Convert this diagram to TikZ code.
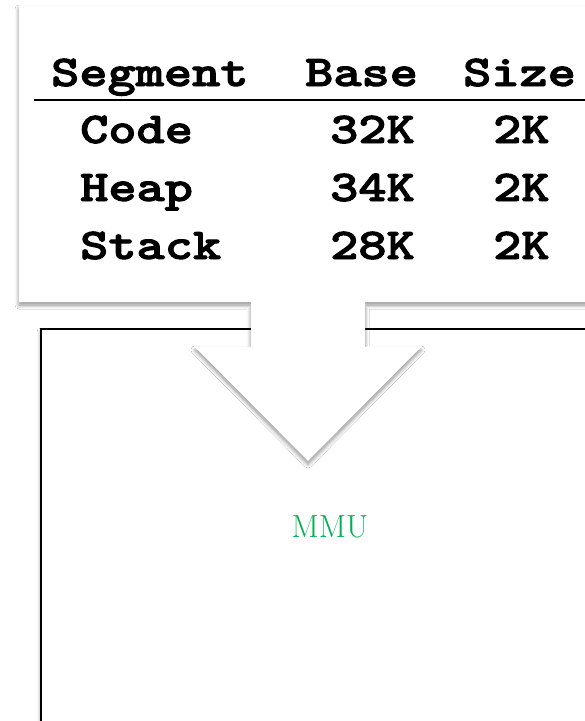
\documentclass[tikz,border=0pt]{standalone}
\usetikzlibrary{shadows.blur}
\definecolor{mmugreen}{RGB}{0,176,80}
\newcommand\wideT[1]{\special{pdf:literal 2 Tr 0.9 w}\scalebox{1.22}[1]{#1}\special{pdf:literal 0 Tr}}
\begin{document}
\begin{tikzpicture}[x=1pt,y=-1pt,
  cell/.style={anchor=base west, inner sep=0pt, font=\ttfamily\bfseries\fontsize{44}{44}\selectfont},
  softshadow/.style={blur shadow={shadow blur steps=8, shadow xshift=0pt, shadow yshift=-3pt, shadow opacity=45, shadow blur radius=4pt}}]
\useasboundingbox (0,0) rectangle (585,721);
\clip (0,0) rectangle (585,721);
\fill[white] (0,0) rectangle (585,721);
% MMU box
\draw[line width=2pt, fill=white, softshadow] (41,329) rectangle (660,800);
\node[text=mmugreen, font=\fontsize{32}{32}\selectfont] (mmu) at (330,527) {MMU};
% callout
\path[fill=white, softshadow] (19,6) -- (640,6) -- (640,302) -- (365,302) -- (365,347) -- (421,347) -- (308,461) -- (195,347) -- (251,347) -- (251,302) -- (19,302) -- cycle;
% table
\node[cell] (hseg) at (51,86) {\wideT{Segment}};
\node[cell] (hbase) at (305,86) {\wideT{Base}};
\node[cell] (hsize) at (463,86) {\wideT{Size}};
\draw[line width=2.5pt] (34,100) -- (620,100);
\node[cell] (code) at (80,143) {\wideT{Code}};
\node[cell] (cbase) at (330,143) {\wideT{32K}};
\node[cell] (csize) at (493,143) {\wideT{2K}};
\node[cell] (heap) at (80,201) {\wideT{Heap}};
\node[cell] (hpbase) at (330,201) {\wideT{34K}};
\node[cell] (hpsize) at (493,201) {\wideT{2K}};
\node[cell] (stack) at (80,259) {\wideT{Stack}};
\node[cell] (sbase) at (330,259) {\wideT{28K}};
\node[cell] (ssize) at (493,259) {\wideT{2K}};
\end{tikzpicture}
\end{document}
